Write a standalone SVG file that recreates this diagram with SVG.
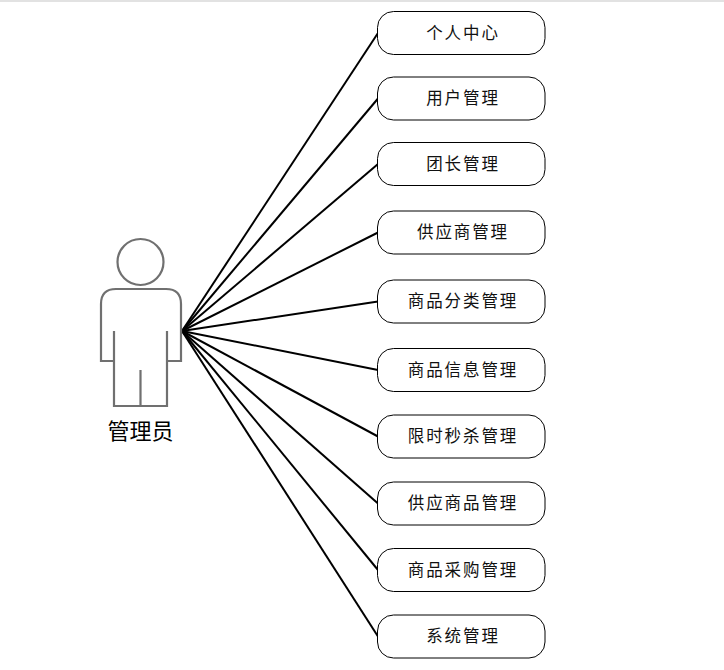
<svg xmlns="http://www.w3.org/2000/svg" width="724" height="670" viewBox="0 0 724 670">
<style>
.box{fill:#fff;stroke:#000;stroke-width:1}
.lbl{font-family:"Noto Sans CJK SC","Noto Sans",sans-serif;font-size:16.500px;letter-spacing:1.900px;text-anchor:middle;fill:#111;font-weight:400}
.conn{stroke:#000;stroke-width:2;fill:none}
.actor{fill:none;stroke:#707070;stroke-width:2.200}
</style>
<rect width="724" height="670" fill="#fff"/>
<rect width="724" height="2" fill="#e2e2e2"/>
<g id="connectors">
<path class="conn" d="M182 331L378 33"/>
<path class="conn" d="M182 331L378 98.500"/>
<path class="conn" d="M182 331L378 164"/>
<path class="conn" d="M182 331L378 232.500"/>
<path class="conn" d="M182 331L378 301.500"/>
<path class="conn" d="M182 331L378 370"/>
<path class="conn" d="M182 331L378 436.500"/>
<path class="conn" d="M182 331L378 503.500"/>
<path class="conn" d="M182 331L378 570"/>
<path class="conn" d="M182 331L378 636.500"/>
</g>
<g id="actor">
<circle class="actor" cx="140.500" cy="262" r="23"/>
<path class="actor" d="M114 331V361H101V304Q101 289 116 289H166Q181 289 181 304V361H167V331M114 361V406H167V361M140.500 370V406"/>
<text x="140.500" y="439" font-family="'Noto Sans CJK SC','Noto Sans',sans-serif" font-size="22" text-anchor="middle" fill="#000">管理员</text>
</g>
<g id="n1"><rect class="box" x="377.500" y="11.500" width="167.500" height="43" rx="16"/><text class="lbl" x="463" y="38.500">个人中心</text></g>
<g id="n2"><rect class="box" x="377.500" y="77" width="167.500" height="43" rx="16"/><text class="lbl" x="463" y="104">用户管理</text></g>
<g id="n3"><rect class="box" x="377.500" y="142.500" width="167.500" height="43" rx="16"/><text class="lbl" x="463" y="169.500">团长管理</text></g>
<g id="n4"><rect class="box" x="377.500" y="211" width="167.500" height="43" rx="16"/><text class="lbl" x="463" y="238">供应商管理</text></g>
<g id="n5"><rect class="box" x="377.500" y="280" width="167.500" height="43" rx="16"/><text class="lbl" x="463" y="307">商品分类管理</text></g>
<g id="n6"><rect class="box" x="377.500" y="348.500" width="167.500" height="43" rx="16"/><text class="lbl" x="463" y="375.500">商品信息管理</text></g>
<g id="n7"><rect class="box" x="377.500" y="415" width="167.500" height="43" rx="16"/><text class="lbl" x="463" y="442">限时秒杀管理</text></g>
<g id="n8"><rect class="box" x="377.500" y="482" width="167.500" height="43" rx="16"/><text class="lbl" x="463" y="509">供应商品管理</text></g>
<g id="n9"><rect class="box" x="377.500" y="548.500" width="167.500" height="43" rx="16"/><text class="lbl" x="463" y="575.500">商品采购管理</text></g>
<g id="n10"><rect class="box" x="377.500" y="615" width="167.500" height="43" rx="16"/><text class="lbl" x="463" y="642">系统管理</text></g>
</svg>
